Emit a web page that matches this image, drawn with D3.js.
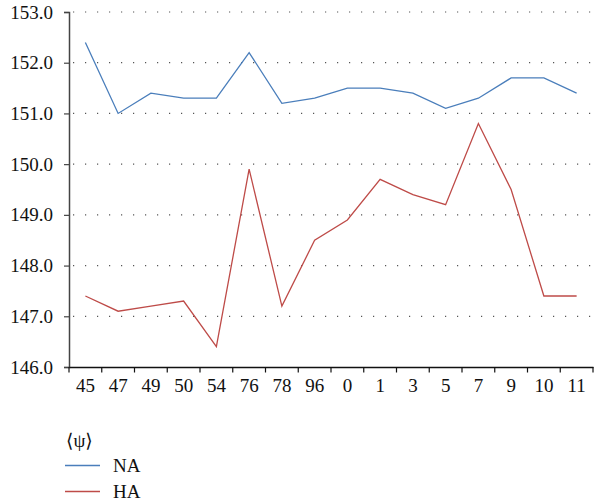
<!DOCTYPE html>
<html><head><meta charset="utf-8">
<script src="https://cdn.jsdelivr.net/npm/d3@7"></script>
<style>body{margin:0;background:#fff}svg{display:block}</style>
</head><body><svg id="c" width="594" height="501"></svg>
<script>
const categories = ["45","47","49","50","54","76","78","96","0","1","3","5","7","9","10","11"];
const naValues = [152.4,151.0,151.4,151.3,151.3,152.2,151.2,151.3,151.5,151.5,151.4,151.1,151.3,151.7,151.7,151.4];
const haValues = [147.4,147.1,147.2,147.3,146.4,149.9,147.2,148.5,148.9,149.7,149.4,149.2,150.8,149.5,147.4,147.4];
const yTicks = [146,147,148,149,150,151,152,153];
const seriesNames = ["NA","HA"];
const seriesColors = ["#4a7ebb","#be4b48"];
const legendTitle = "\u27E8\u03C8\u27E9";

(function(){
const FONT = "'Liberation Serif', 'DejaVu Serif', serif";
const svg = d3.select("#c");
const mLeft = 69, mRight = 593, mTop = 12, mBottom = 367;
const x = d3.scaleBand().domain(categories).range([mLeft, mRight]);
const y = d3.scaleLinear().domain([146,153]).range([mBottom, mTop]);

svg.append("g").selectAll("line").data(yTicks.filter(d=>d>146)).join("line")
  .attr("x1", mLeft+4).attr("x2", 594).attr("y1", d=>y(d)).attr("y2", d=>y(d))
  .attr("stroke", "#555").attr("stroke-width", 1.2).attr("stroke-dasharray", "1.2,10.8");

const ya = svg.append("g").attr("transform", `translate(${mLeft},0)`)
  .call(d3.axisLeft(y).tickValues(yTicks).tickFormat(d3.format(".1f")).tickSize(5).tickPadding(11));
ya.attr("font-family", FONT);
ya.select(".domain").attr("stroke", "#444").attr("stroke-width", 1.5);
ya.selectAll(".tick line").attr("stroke", "#444").attr("stroke-width", 1.2);
ya.selectAll("text").style("font-size", "19px").style("font-family", FONT).attr("fill", "#111");

const xa = svg.append("g").attr("transform", `translate(0,${mBottom})`)
  .call(d3.axisBottom(x).tickSize(0).tickPadding(12));
xa.attr("font-family", FONT);
xa.select(".domain").attr("stroke", "#111").attr("stroke-width", 1.5);
xa.selectAll("text").style("font-size", "19px").style("font-family", FONT).attr("fill", "#111");
const bounds = categories.map(c=>x(c)).concat([mRight]);
svg.append("g").selectAll("line").data(bounds).join("line")
  .attr("x1", d=>d).attr("x2", d=>d).attr("y1", mBottom).attr("y2", mBottom+5.5)
  .attr("stroke", "#111").attr("stroke-width", 1.2);

const line = d3.line().x((d,i)=>x(categories[i])+x.bandwidth()/2).y(d=>y(d));
[naValues, haValues].forEach((vals,k)=>{
  svg.append("path").datum(vals).attr("d", line).attr("fill","none")
    .attr("stroke", seriesColors[k]).attr("stroke-width", 1.3);
});

svg.append("text").attr("x", 66).attr("y", 447).text(legendTitle)
  .style("font-size","19px").style("font-family", FONT).attr("fill","#111");
seriesNames.forEach((n,k)=>{
  const yy = 465.5 + k*26;
  svg.append("line").attr("x1",65).attr("x2",100).attr("y1",yy).attr("y2",yy)
    .attr("stroke", seriesColors[k]).attr("stroke-width",1.3);
  svg.append("text").attr("x",113).attr("y",yy+6.5).text(n)
    .style("font-size","19px").style("font-family", FONT).attr("fill","#111");
});
})();
</script></body></html>
